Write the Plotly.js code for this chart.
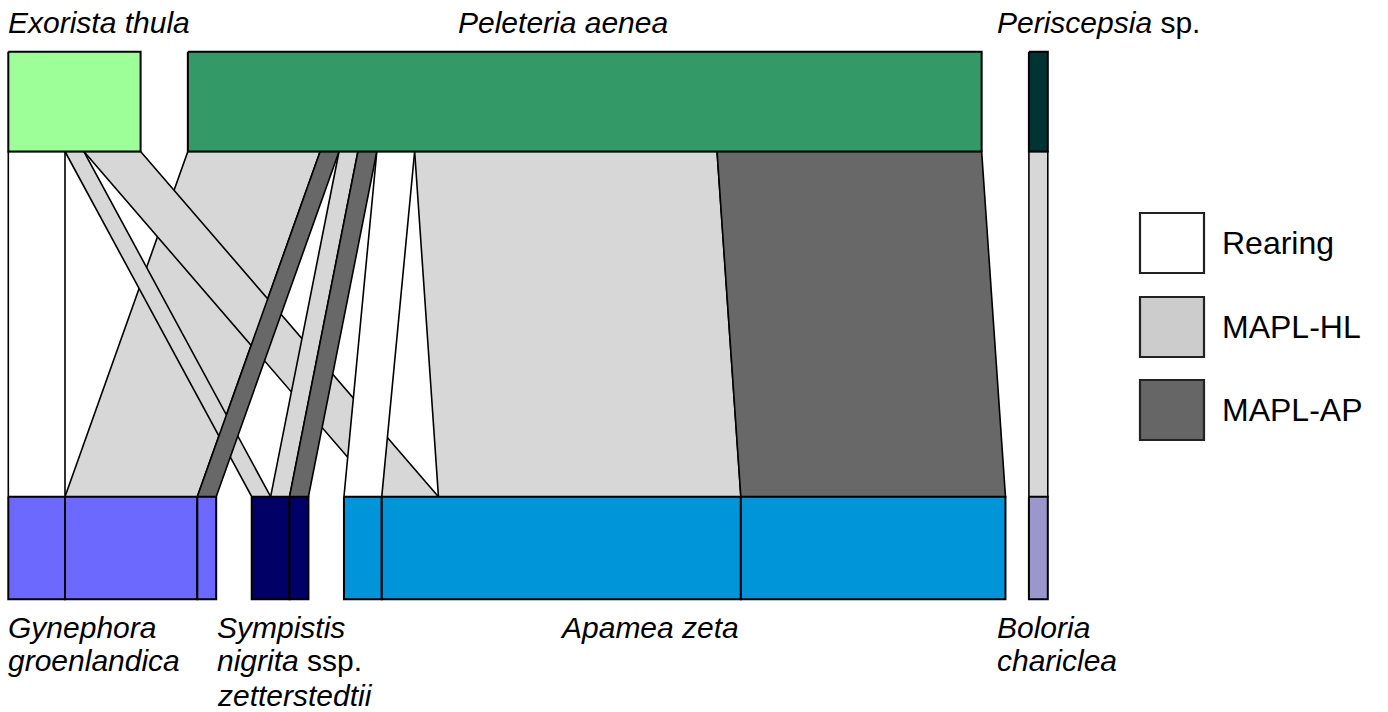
<!DOCTYPE html>
<html>
<head>
<meta charset="utf-8">
<script src="https://cdn.plot.ly/plotly-3.0.1.min.js"></script>
<style>html,body{margin:0;padding:0;background:#fff;}#chart{width:1388px;height:712px;}</style>
</head>
<body>
<div id="chart"></div>
<script>
// ---------------- DATA ----------------
const uppers = ['Exorista thula', 'Peleteria aenea', 'Periscepsia sp.'];
const lowers = ['Gynephora groenlandica', 'Sympistis nigrita ssp. zetterstedtii', 'Apamea zeta', 'Boloria chariclea'];
const methods = ['Rearing', 'MAPL-HL', 'MAPL-AP'];

// interactions, listed in drawing order
const linkUpper  = ['Peleteria aenea', 'Exorista thula', 'Exorista thula', 'Exorista thula', 'Peleteria aenea', 'Peleteria aenea', 'Peleteria aenea', 'Peleteria aenea', 'Peleteria aenea', 'Peleteria aenea', 'Periscepsia sp.'];
const linkLower  = ['Gynephora groenlandica', 'Gynephora groenlandica', 'Sympistis nigrita ssp. zetterstedtii', 'Apamea zeta', 'Gynephora groenlandica', 'Sympistis nigrita ssp. zetterstedtii', 'Sympistis nigrita ssp. zetterstedtii', 'Apamea zeta', 'Apamea zeta', 'Apamea zeta', 'Boloria chariclea'];
const linkMethod = ['MAPL-HL', 'Rearing', 'MAPL-HL', 'MAPL-HL', 'MAPL-AP', 'MAPL-HL', 'MAPL-AP', 'Rearing', 'MAPL-HL', 'MAPL-AP', 'MAPL-HL'];
const linkCount  = [7, 3, 1, 3, 1, 1, 1, 2, 16, 14, 1];

// labels
const upperLabels = [['<i>Exorista thula</i>'], ['<i>Peleteria aenea</i>'], ['<i>Periscepsia</i> sp.']];
const lowerLabels = [['<i>Gynephora</i>', '<i>groenlandica</i>'], ['<i>Sympistis</i>', '<i>nigrita</i> ssp.', '<i>zetterstedtii</i>'], ['<i>Apamea zeta</i>'], ['<i>Boloria</i>', '<i>chariclea</i>']];

// ---------------- STYLE / LAYOUT ----------------
const upperColors = ['#9cff98', '#339966', '#003333'];
const lowerColors = ['#6b69ff', '#000066', '#0094d9', '#9b96cc'];
const methodColors = ['#ffffff', '#d7d7d7', '#686868'];
const legendColors = ['#ffffff', '#cccccc', '#666666'];

const UNIT = 18.9;      // px per interaction
const X0PX = 8.3;       // left edge px
const UPPER_GAPS = [2.5, 2.5];
const LOWER_GAPS = [1.88, 1.88, 1.24];
const TOP_Y0 = 51.7, TOP_Y1 = 151.5, LOW_Y0 = 496.7, LOW_Y1 = 599.3;
const upperLabelPx = [6, 456, 995];
const lowerLabelPx = [6, 215, 558, 995];
const UP_LABEL_Y = 22.5;
const LOW_LABEL_Y = [627, 660, 695];
const FONT = 'Liberation Sans, Arial, sans-serif';

function px2x(px) { return (px - X0PX) / UNIT; }

// ---------------- GEOMETRY ----------------
function totals(names, key) {
  return names.map(n => linkCount.reduce((s, c, i) => s + (key[i] === n ? c : 0), 0));
}
const upTot = totals(uppers, linkUpper);
const lowTot = totals(lowers, linkLower);
function starts(tot, gaps) {
  const s = []; let x = 0;
  tot.forEach((t, i) => { s.push(x); x += t + (gaps[i] || 0); });
  return s;
}
const upStart = starts(upTot, UPPER_GAPS);
const lowStart = starts(lowTot, LOWER_GAPS);

const idx = linkCount.map((_, i) => i);
const upSeg = {}, lowSeg = {};
uppers.forEach((u, ui) => {
  let x = upStart[ui];
  idx.filter(i => linkUpper[i] === u)
     .sort((a, b) => (lowers.indexOf(linkLower[a]) - lowers.indexOf(linkLower[b])) || (methods.indexOf(linkMethod[a]) - methods.indexOf(linkMethod[b])))
     .forEach(i => { upSeg[i] = [x, x + linkCount[i]]; x += linkCount[i]; });
});
const lowMethodSeg = [];
lowers.forEach((l, li) => {
  let x = lowStart[li];
  const ord = idx.filter(i => linkLower[i] === l)
     .sort((a, b) => (methods.indexOf(linkMethod[a]) - methods.indexOf(linkMethod[b])) || (uppers.indexOf(linkUpper[a]) - uppers.indexOf(linkUpper[b])));
  ord.forEach(i => { lowSeg[i] = [x, x + linkCount[i]]; x += linkCount[i]; });
  methods.forEach(m => {
    const seg = ord.filter(i => linkMethod[i] === m);
    if (seg.length) lowMethodSeg.push({li, x0: lowSeg[seg[0]][0], x1: lowSeg[seg[seg.length - 1]][1]});
  });
});

function poly(xs, ys, fill, lw) {
  return {type: 'scatter', mode: 'lines', x: xs.concat([xs[0]]), y: ys.concat([ys[0]]),
    fill: 'toself', fillcolor: fill, line: {color: '#000', width: lw}, hoverinfo: 'skip', showlegend: false};
}

const traces = [];
idx.forEach(i => {
  const u = upSeg[i], l = lowSeg[i];
  traces.push(poly([u[0], u[1], l[1], l[0]], [TOP_Y1, TOP_Y1, LOW_Y0, LOW_Y0], methodColors[methods.indexOf(linkMethod[i])], 1.6));
});
lowMethodSeg.forEach(s => {
  traces.push(poly([s.x0, s.x1, s.x1, s.x0], [LOW_Y0, LOW_Y0, LOW_Y1, LOW_Y1], lowerColors[s.li], 2));
});
uppers.forEach((u, ui) => {
  const x0 = upStart[ui], x1 = x0 + upTot[ui];
  traces.push(poly([x0, x1, x1, x0], [TOP_Y0, TOP_Y0, TOP_Y1, TOP_Y1], upperColors[ui], 2));
});

// ---------------- TEXT ----------------
const annotations = [];
upperLabels.forEach((lines, ui) => lines.forEach((t, k) => annotations.push({
  text: t, x: px2x(upperLabelPx[ui]), y: UP_LABEL_Y, xref: 'x', yref: 'y', xanchor: 'left', yanchor: 'middle',
  showarrow: false, font: {family: FONT, size: 30, color: '#000'}
})));
lowerLabels.forEach((lines, li) => lines.forEach((t, k) => annotations.push({
  text: t, x: px2x(lowerLabelPx[li]), y: LOW_LABEL_Y[k], xref: 'x', yref: 'y', xanchor: 'left', yanchor: 'middle',
  showarrow: false, font: {family: FONT, size: 30, color: '#000'}
})));

const LEG_X0 = 1140, LEG_X1 = 1204, LEG_Y0 = [213, 297, 380], LEG_H = 60, LEG_TX = 1220;
const shapes = [];
methods.forEach((m, k) => {
  shapes.push({type: 'rect', xref: 'x', yref: 'y', x0: px2x(LEG_X0), x1: px2x(LEG_X1), y0: LEG_Y0[k], y1: LEG_Y0[k] + LEG_H,
    fillcolor: legendColors[k], line: {color: '#222', width: 2.2}});
  annotations.push({text: m, x: px2x(LEG_TX), y: LEG_Y0[k] + LEG_H / 2, xref: 'x', yref: 'y', xanchor: 'left', yanchor: 'middle',
    showarrow: false, font: {family: FONT, size: 32, color: '#000'}});
});

const layout = {
  width: 1388, height: 712, margin: {l: 0, r: 0, t: 0, b: 0},
  paper_bgcolor: '#fff', plot_bgcolor: '#fff', showlegend: false,
  xaxis: {range: [px2x(0), px2x(1388)], visible: false, fixedrange: true},
  yaxis: {range: [712, 0], visible: false, fixedrange: true},
  shapes, annotations
};
Plotly.newPlot('chart', traces, layout, {displayModeBar: false, staticPlot: true});
</script>
</body>
</html>
